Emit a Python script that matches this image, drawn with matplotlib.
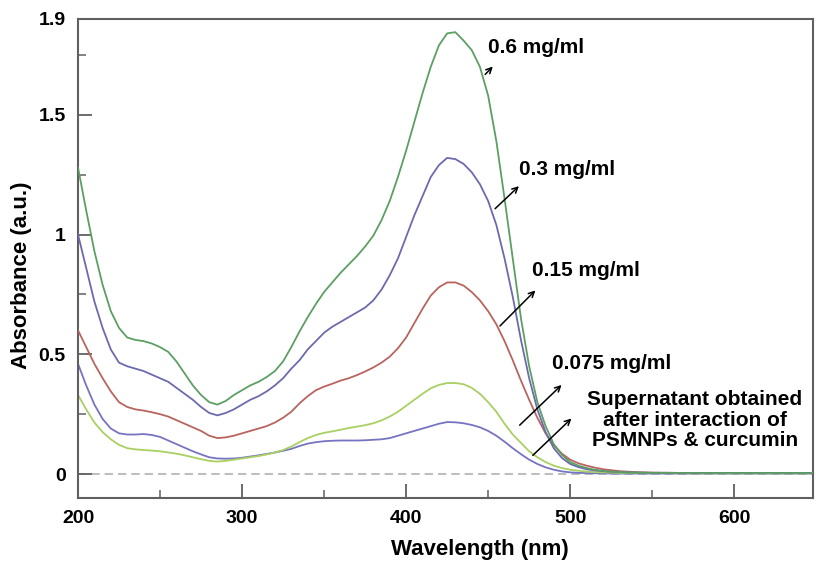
import matplotlib
matplotlib.use('Agg')
import matplotlib.pyplot as plt
from matplotlib.ticker import MultipleLocator

plt.rcParams['font.family'] = ['Liberation Sans', 'DejaVu Sans']
plt.rcParams['font.weight'] = 'bold'

# wavelength grid (nm)
wavelength = [200, 205, 210, 215, 220, 225, 230, 235, 240, 245, 250, 255, 260, 265, 270,
              275, 280, 285, 290, 295, 300, 305, 310, 315, 320, 325, 330, 335, 340, 345,
              350, 355, 360, 365, 370, 375, 380, 385, 390, 395, 400, 405, 410, 415, 420,
              425, 430, 435, 440, 445, 450, 455, 460, 465, 470, 475, 480, 485, 490, 495,
              500, 505, 510, 515, 520, 525, 530, 535, 540, 550, 560, 580, 600, 625, 650]

# absorbance, 0.6 mg/ml
abs_06 = [1.28, 1.10, 0.93, 0.79, 0.68, 0.61, 0.57, 0.56, 0.555, 0.545, 0.53, 0.51, 0.47, 0.42, 0.37,
          0.33, 0.30, 0.29, 0.305, 0.33, 0.35, 0.37, 0.385, 0.405, 0.43, 0.47, 0.53, 0.595, 0.655, 0.71,
          0.76, 0.80, 0.84, 0.875, 0.91, 0.95, 0.995, 1.06, 1.14, 1.24, 1.35, 1.47, 1.59, 1.70, 1.79,
          1.84, 1.845, 1.81, 1.77, 1.70, 1.58, 1.39, 1.15, 0.90, 0.65, 0.45, 0.30, 0.20, 0.125, 0.08,
          0.05, 0.035, 0.025, 0.018, 0.013, 0.01, 0.008, 0.007, 0.006, 0.005, 0.005, 0.004, 0.004, 0.004, 0.004]
# absorbance, 0.3 mg/ml
abs_03 = [1.00, 0.86, 0.72, 0.61, 0.52, 0.465, 0.45, 0.44, 0.43, 0.415, 0.40, 0.385, 0.36, 0.335, 0.31,
          0.28, 0.255, 0.245, 0.255, 0.27, 0.29, 0.31, 0.325, 0.345, 0.37, 0.40, 0.44, 0.475, 0.52, 0.555,
          0.59, 0.615, 0.635, 0.655, 0.675, 0.695, 0.725, 0.77, 0.83, 0.90, 0.99, 1.08, 1.16, 1.24, 1.29,
          1.32, 1.315, 1.295, 1.26, 1.21, 1.14, 1.04, 0.90, 0.74, 0.56, 0.40, 0.27, 0.175, 0.108, 0.067,
          0.042, 0.029, 0.02, 0.015, 0.012, 0.01, 0.008, 0.007, 0.006, 0.005, 0.005, 0.004, 0.004, 0.004, 0.004]
# absorbance, 0.15 mg/ml
abs_015 = [0.60, 0.53, 0.46, 0.40, 0.345, 0.30, 0.28, 0.27, 0.265, 0.258, 0.25, 0.24, 0.225, 0.21, 0.195,
           0.18, 0.16, 0.15, 0.153, 0.16, 0.17, 0.18, 0.19, 0.20, 0.215, 0.235, 0.26, 0.295, 0.325, 0.35,
           0.365, 0.377, 0.39, 0.40, 0.413, 0.428, 0.445, 0.465, 0.49, 0.525, 0.57, 0.63, 0.69, 0.745, 0.78,
           0.80, 0.80, 0.787, 0.76, 0.725, 0.68, 0.625, 0.555, 0.475, 0.39, 0.31, 0.235, 0.17, 0.12, 0.085,
           0.06, 0.045, 0.035, 0.027, 0.02, 0.016, 0.012, 0.01, 0.008, 0.006, 0.005, 0.004, 0.004, 0.004, 0.004]
# absorbance, 0.075 mg/ml
abs_0075 = [0.33, 0.27, 0.215, 0.175, 0.145, 0.122, 0.108, 0.103, 0.10, 0.098, 0.095, 0.09, 0.085, 0.078, 0.07,
            0.062, 0.055, 0.052, 0.055, 0.06, 0.065, 0.07, 0.075, 0.082, 0.09, 0.10, 0.115, 0.133, 0.15, 0.163,
            0.172, 0.178, 0.185, 0.192, 0.198, 0.204, 0.212, 0.224, 0.24, 0.26, 0.285, 0.31, 0.335, 0.358, 0.372,
            0.38, 0.38, 0.375, 0.36, 0.335, 0.30, 0.26, 0.21, 0.165, 0.13, 0.095, 0.07, 0.05, 0.035, 0.025,
            0.018, 0.014, 0.01, 0.008, 0.007, 0.006, 0.005, 0.005, 0.004, 0.004, 0.004, 0.003, 0.003, 0.003, 0.003]
# absorbance, supernatant after PSMNPs & curcumin
abs_super = [0.46, 0.37, 0.29, 0.23, 0.19, 0.17, 0.165, 0.165, 0.167, 0.163, 0.155, 0.14, 0.125, 0.11, 0.095,
             0.082, 0.07, 0.065, 0.064, 0.065, 0.068, 0.073, 0.078, 0.084, 0.09, 0.097, 0.105, 0.117, 0.127, 0.133,
             0.137, 0.139, 0.14, 0.14, 0.14, 0.141, 0.143, 0.145, 0.15, 0.16, 0.17, 0.18, 0.19, 0.20, 0.21,
             0.217, 0.216, 0.212, 0.205, 0.195, 0.18, 0.16, 0.135, 0.108, 0.083, 0.06, 0.042, 0.028, 0.018, 0.011,
             0.007, 0.005, 0.004, 0.003, 0.003, 0.002, 0.002, 0.002, 0.002, 0.002, 0.002, 0.002, 0.002, 0.002, 0.002]

x_ticks = [200, 300, 400, 500, 600]
y_ticks = [0, 0.5, 1, 1.5, 1.9]
y_tick_labels = ['0', '0.5', '1', '1.5', '1.9']

fig = plt.figure(figsize=(8.16, 5.62), dpi=100)
ax = fig.add_axes([0.0956, 0.1139, 0.9007, 0.8523])

# zero baseline
ax.axhline(0, color='#b0b0b0', lw=1.2, ls=(0, (5, 3)), zorder=1)

line_kw = dict(lw=1.3, solid_joinstyle='round')
ax.plot(wavelength, abs_super, color='#7674c2', zorder=2, **line_kw)
ax.plot(wavelength, abs_0075, color='#a9d062', zorder=2, **line_kw)
ax.plot(wavelength, abs_015, color='#b9645e', zorder=3, **line_kw)
ax.plot(wavelength, abs_03, color='#6c6aaf', zorder=3, **line_kw)
ax.plot(wavelength, abs_06, color='#5c9f62', zorder=3, **line_kw)

ax.set_xlim(200, 648)
ax.set_ylim(-0.1, 1.9)
ax.set_xticks(x_ticks)
ax.set_yticks(y_ticks)
ax.set_yticklabels(y_tick_labels)
ax.xaxis.set_minor_locator(MultipleLocator(50))
ax.yaxis.set_minor_locator(MultipleLocator(0.25))

for s in ax.spines.values():
    s.set_color('#606060')
    s.set_linewidth(1.5)
ax.tick_params(which='major', direction='in', length=10, width=1.3, color='#606060',
               labelsize=14, pad=9)
ax.tick_params(which='minor', direction='in', length=6, width=1.1, color='#606060')
for lab in ax.get_xticklabels() + ax.get_yticklabels():
    lab.set_fontweight('bold')

fig.text(480 / 816, 1 - 550 / 562, 'Wavelength (nm)', fontsize=16, fontweight='bold',
         ha='center', va='center')
fig.text(22 / 816, 1 - 275 / 562, 'Absorbance (a.u.)', fontsize=16, fontweight='bold',
         ha='center', va='center', rotation=90)

# labels with arrows
arrow = dict(arrowstyle='->', color='black', lw=1.1)
ax.annotate('', xy=(454, 1.71), xytext=(447, 1.66), arrowprops=arrow)
ax.text(450, 1.78, '0.6 mg/ml', fontsize=15, fontweight='bold', va='center', ha='left')

ax.annotate('', xy=(470, 1.21), xytext=(453, 1.10), arrowprops=arrow)
ax.text(469, 1.27, '0.3 mg/ml', fontsize=15, fontweight='bold', va='center', ha='left')

ax.annotate('', xy=(480, 0.775), xytext=(456, 0.61), arrowprops=arrow)
ax.text(477, 0.85, '0.15 mg/ml', fontsize=15, fontweight='bold', va='center', ha='left')

ax.annotate('', xy=(496, 0.38), xytext=(468, 0.196), arrowprops=arrow)
ax.text(489, 0.46, '0.075 mg/ml', fontsize=15, fontweight='bold', va='center', ha='left')

ax.annotate('', xy=(502, 0.24), xytext=(476, 0.07), arrowprops=arrow)
ax.text(576, 0.225, 'Supernatant obtained\nafter interaction of\nPSMNPs & curcumin',
        fontsize=15, fontweight='bold', va='center', ha='center', linespacing=1.1)

fig.savefig('out.png', dpi=100)
